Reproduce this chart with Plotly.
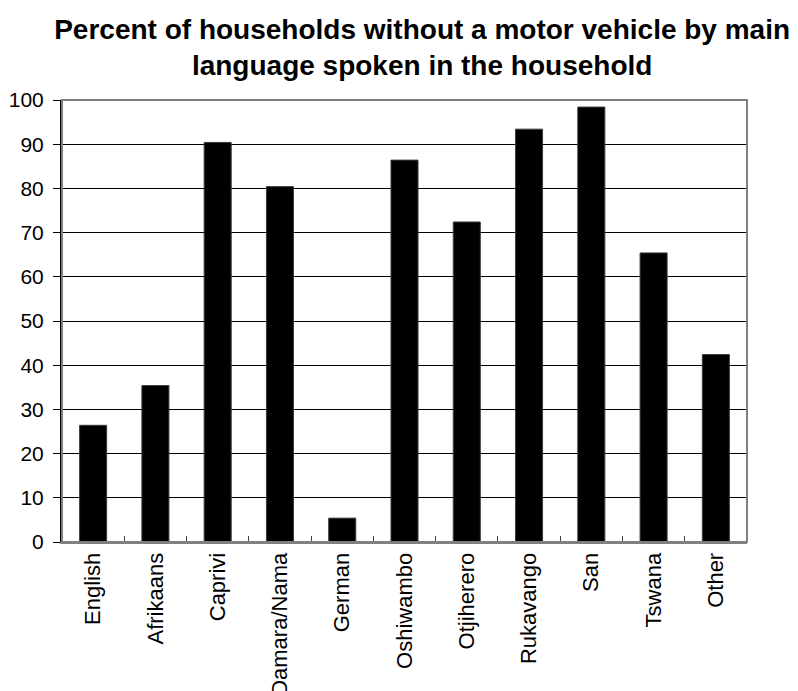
import plotly.graph_objects as go

languages = ["English", "Afrikaans", "Caprivi", "Damara/Nama", "German", "Oshiwambo",
             "Otjiherero", "Rukavango", "San", "Tswana", "Other"]
pct_no_vehicle = [26.4, 35.4, 90.4, 80.4, 5.4, 86.4, 72.4, 93.4, 98.4, 65.4, 42.4]
y_ticks = [0, 10, 20, 30, 40, 50, 60, 70, 80, 90, 100]

FONT = "Liberation Sans, Arial, sans-serif"

fig = go.Figure(go.Bar(
    x=languages, y=pct_no_vehicle,
    marker=dict(color="black", line=dict(color="#3a3a3a", width=1)),
))

fig.update_layout(
    width=798, height=691,
    autosize=False,
    paper_bgcolor="white", plot_bgcolor="white",
    margin=dict(l=62, r=51, t=100, b=149, autoexpand=False),
    bargap=0.566,
    showlegend=False,
    font=dict(family=FONT, color="black"),
    title=dict(
        text="<b>Percent of households without a motor vehicle by main<br>language spoken in the household</b>",
        font=dict(family=FONT, size=28, color="black"),
        x=0.529, xanchor="center", xref="container",
        y=0.944, yanchor="top", yref="container",
    ),
    xaxis=dict(
        type="category",
        tickangle=-90,
        tickfont=dict(family=FONT, size=22, color="black"),
        ticks="inside", tickson="boundaries", ticklen=6, tickcolor="#404040", tickwidth=1,
        showline=True, linecolor="#808080", linewidth=2,
        showgrid=False,
    ),
    yaxis=dict(
        range=[0, 100],
        tickvals=y_ticks,
        tickfont=dict(family=FONT, size=21, color="black"),
        ticks="outside", ticklen=7, tickcolor="black", tickwidth=1,
        showline=True, linecolor="black", linewidth=2,
        showgrid=True, gridcolor="black", gridwidth=1,
        zeroline=False,
        ticklabelstandoff=5,
    ),
    shapes=[dict(type="rect", xref="paper", yref="paper", x0=0, x1=1, y0=0, y1=1,
                 line=dict(color="#808080", width=2), layer="above")],
)

fig.write_html("out.html")
